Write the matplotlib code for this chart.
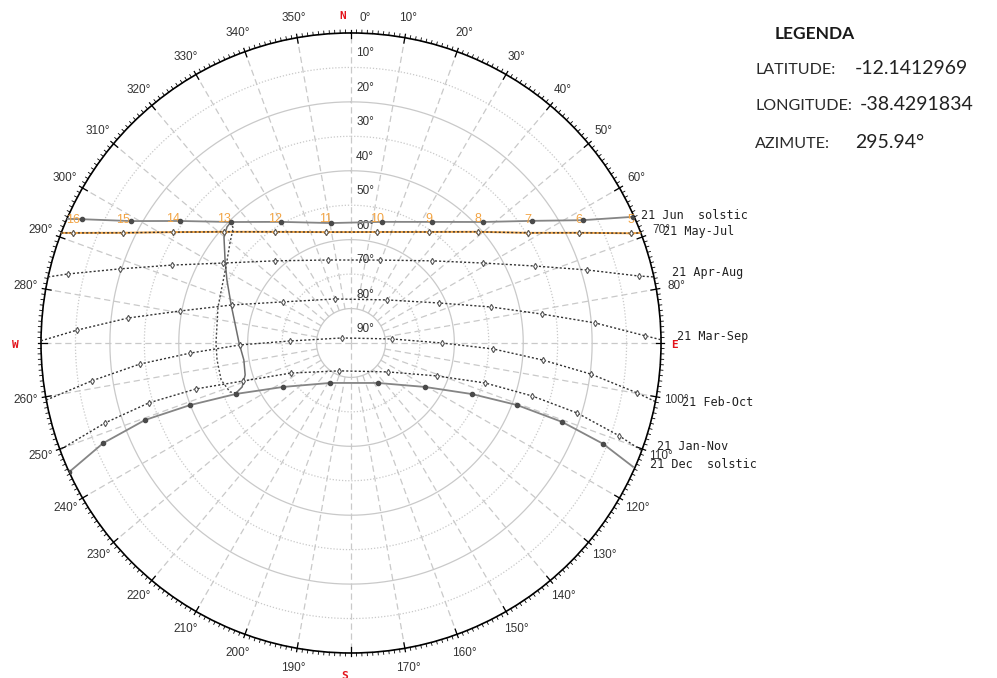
import numpy as np
import matplotlib
matplotlib.use('Agg')
import matplotlib.pyplot as plt

# sun paths: azimuth (deg, clockwise from N) and altitude (deg), horizon ends included
jun_az = [293.6, 294.7, 299.0, 305.5, 315.2, 330.0, 350.5, 14.4, 33.8, 47.5, 56.0, 62.1, 65.9, 66.1]
jun_alt = [0.0, 4.0, 17.0, 29.0, 40.5, 49.4, 54.7, 53.7, 47.7, 38.0, 26.6, 13.8, 0.3, 0.0]
may_az = [290.8, 291.6, 295.8, 301.9, 311.2, 325.6, 347.3, 13.2, 35.1, 48.8, 58.1, 64.2, 68.6, 69.2]
may_alt = [0.0, 3.2, 16.5, 29.1, 41.0, 50.9, 57.0, 56.9, 50.6, 41.0, 29.5, 16.5, 2.7, 0.0]
apr_az = [282.3, 283.7, 287.8, 293.5, 302.0, 317.2, 344.5, 19.3, 44.6, 58.8, 67.3, 72.8, 76.9, 77.7]
apr_alt = [0.0, 5.4, 19.6, 33.3, 46.2, 57.5, 65.0, 64.5, 56.5, 45.2, 32.1, 18.3, 4.2, 0.0]
mar_az = [270.4, 272.7, 276.4, 280.6, 287.7, 301.1, 340.0, 39.9, 65.6, 75.6, 81.4, 85.3, 88.6, 89.4]
mar_alt = [0.0, 10.4, 24.9, 39.5, 53.7, 66.9, 76.4, 73.7, 61.9, 48.0, 33.9, 18.9, 4.6, 0.0]
feb_az = [259.4, 261.7, 264.3, 266.4, 269.0, 271.9, 299.1, 84.4, 90.0, 92.4, 95.1, 97.4, 99.9, 100.9]
feb_alt = [0.0, 14.0, 28.4, 43.2, 57.8, 72.3, 87.0, 78.0, 63.6, 48.7, 34.0, 19.7, 5.7, 0.0]
jan_az = [249.9, 252.0, 253.5, 253.5, 250.6, 243.4, 203.2, 128.1, 111.0, 106.6, 106.3, 107.2, 109.1, 110.3]
jan_alt = [0.4, 14.9, 28.8, 43.1, 56.8, 70.5, 81.2, 76.4, 63.3, 49.4, 35.2, 21.3, 7.6, 0.0]
dec_az = [245.4, 248.0, 249.5, 248.9, 246.1, 237.1, 207.7, 146.0, 120.7, 112.9, 110.5, 110.5, 111.8, 113.7]
dec_alt = [0.0, 12.4, 26.2, 39.9, 53.5, 66.5, 76.9, 76.0, 65.0, 51.9, 38.6, 24.6, 11.2, 0.6]

# today's path (orange) runs on the May-Jul one
today_az = may_az
today_alt = may_alt
hours = [16, 15, 14, 13, 12, 11, 10, 9, 8, 7, 6, 5]

# analemma of 13h, two halves of the year
ana1_az = [315.2, 313.1, 309.8, 303.4, 296.9, 287.6, 270.0, 261.0, 253.2, 248.0, 246.5]
ana1_alt = [40.5, 40.7, 42.0, 46.2, 49.6, 53.5, 57.5, 58.5, 57.9, 55.9, 53.6]
ana2_az = [315.2, 314.3, 309.6, 301.3, 285.1, 270.0, 262.8, 254.1, 248.0, 246.5]
ana2_alt = [40.5, 42.2, 44.4, 47.5, 50.0, 50.8, 50.8, 50.8, 52.1, 53.6]

date_labels = ['21 Jun  solstic', '21 May-Jul', '21 Apr-Aug', '21 Mar-Sep',
               '21 Feb-Oct', '21 Jan-Nov', '21 Dec  solstic']

legend_rows = [('LATITUDE:', '-12.1412969'),
               ('LONGITUDE:', '-38.4291834'),
               ('AZIMUTE:', '295.94°')]

GRID = '#c9c9c9'
TXT = '#333333'
ORANGE = '#f2a444'
LAB_FONT = 'Liberation Sans'
MONO = 'DejaVu Sans Mono'


def th(az):
    return np.deg2rad(np.asarray(az, dtype=float))


def zen(alt):
    return 90 - np.asarray(alt, dtype=float)


fig = plt.figure(figsize=(9.97, 6.78), dpi=100)
ax = fig.add_axes([0.04112, 0.03687, 0.6219, 0.9145], projection='polar')
ax.set_theta_zero_location('N')
ax.set_theta_direction(-1)
ax.set_ylim(0, 90)
ax.grid(False)
ax.set_yticks([])
ax.set_xticks([])
ax.spines['polar'].set_linewidth(1.2)

# altitude circles
ring = np.linspace(0, 2 * np.pi, 721)
for alt in range(10, 90, 10):
    ls = '-' if alt % 20 == 0 else (0, (1, 1.5))
    ax.plot(ring, np.full_like(ring, 90 - alt), color=GRID, lw=0.9, ls=ls, zorder=1)

# azimuth lines
for az in range(0, 360, 10):
    r0 = 0 if az % 90 == 0 else 10
    ax.plot(th([az, az]), [r0, 90], color=GRID, lw=0.9, ls=(0, (5, 3)), zorder=1)

# degree ticks on the rim
for az in range(360):
    if az % 10 == 0:
        ax.plot(th([az, az]), [88.4, 91.0], color='black', lw=0.9, clip_on=False)
    else:
        ax.plot(th([az, az]), [90, 90.9], color='black', lw=0.6, clip_on=False)

# azimuth labels
for az in range(10, 360, 10):
    if az % 90 == 0:
        continue
    ax.text(th(az), 95.8, f'{az}°', ha='center', va='center', fontsize=8.5,
            family=LAB_FONT, color=TXT, clip_on=False)
ax.annotate('0°', xy=(0, 90), xytext=(14, 15), textcoords='offset pixels',
            ha='center', va='center', fontsize=8.5, family=LAB_FONT, color=TXT)
for lab, az, off in [('N', 0, (-8, 17)), ('E', 90, (13, -2)), ('S', 180, (-6, -23)), ('W', 270, (-26, -2))]:
    ax.annotate(lab, xy=(th(az), 90), xytext=off, textcoords='offset pixels', ha='center',
                va='center', fontsize=8, family=MONO, fontweight='bold', color='#e3131b',
                annotation_clip=False)

# altitude labels along north
for alt in range(10, 100, 10):
    ax.annotate(f'{alt}°', xy=(0, 90 - alt), xytext=(14, 14), textcoords='offset pixels',
                ha='center', va='center', fontsize=8.5, family=LAB_FONT, color=TXT)

# solstice paths
for az, alt in [(jun_az, jun_alt), (dec_az, dec_alt)]:
    ax.plot(th(az), zen(alt), color='#858585', lw=1.3, zorder=3)
for az, alt in [(jun_az[1:-1], jun_alt[1:-1]), (dec_az[:-1], dec_alt[:-1])]:
    ax.plot(th(az), zen(alt), ls='none', marker='o', ms=3, color='#4a4a4a', zorder=4)

# today's path and intermediate months
ax.plot(th(today_az), zen(today_alt), color=ORANGE, lw=1.4, zorder=3)
ax.plot(th(today_az[1:-1]), zen(today_alt[1:-1]), ls='none', marker='+', ms=5, mew=1,
        color=ORANGE, zorder=4)
for az, alt in [(may_az, may_alt), (apr_az, apr_alt), (mar_az, mar_alt), (feb_az, feb_alt), (jan_az, jan_alt)]:
    ax.plot(th(az), zen(alt), color='#333333', lw=1, ls=(0, (1.5, 1.5)), zorder=3)
    ax.plot(th(az[1:-1]), zen(alt[1:-1]), ls='none', marker='d', ms=3.2, mfc='white',
            mec='#555555', mew=0.8, zorder=4)

# analemma 13h
ax.plot(th(ana1_az), zen(ana1_alt), color='#6e6e6e', lw=1.1, zorder=3)
ax.plot(th(ana2_az), zen(ana2_alt), color='#444444', lw=1, ls=(0, (1.5, 1.5)), zorder=3)

# hour numbers
for h, az, alt in zip(hours, today_az[1:-1], today_alt[1:-1]):
    ax.annotate(str(h), xy=(th(az), zen(alt)), xytext=(0, 13), textcoords='offset pixels',
                ha='center', va='center', fontsize=9, family=LAB_FONT, color=ORANGE)

# date labels at the sunrise end
label_offsets = [(7, 2), (22, 1), (18, 4), (16, 3), (27, -1), (15, 4), (17, 2)]
paths = [(jun_az, jun_alt), (may_az, may_alt), (apr_az, apr_alt), (mar_az, mar_alt),
         (feb_az, feb_alt), (jan_az, jan_alt), (dec_az, dec_alt)]
for lab, (az, alt), off in zip(date_labels, paths, label_offsets):
    ax.annotate(lab, xy=(th(az[-1]), zen(alt[-1])), xytext=off, textcoords='offset pixels',
                ha='left', va='center', fontsize=8.5, family=MONO, color='#222222',
                annotation_clip=False)

# legend block
W, H = 997, 678
fig.text(775 / W, 1 - 34 / H, 'LEGENDA', fontsize=12.5, fontweight='bold', family='Lato',
         color='#1a1a1a', va='center')
for (lab, val), y, xv in zip(legend_rows, [70, 106, 144], [855, 860, 855]):
    fig.text(755 / W, 1 - y / H, lab, fontsize=11.6, family='Lato',
             color='#2a2a2a', va='center')
    fig.text(xv / W, 1 - (y - 1) / H, val, fontsize=14, family='Lato',
             color='#222222', va='center')

fig.savefig('out.png', dpi=100)
